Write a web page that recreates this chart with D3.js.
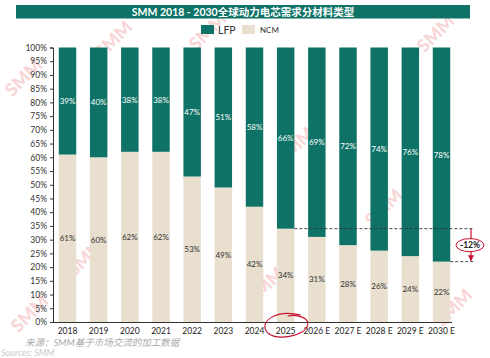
<!DOCTYPE html>
<html><head><meta charset="utf-8">
<script src="https://cdn.jsdelivr.net/npm/d3@7"></script>
<style>body{margin:0;background:#fff}svg{display:block}</style>
</head><body>
<script>
const categories = ["2018","2019","2020","2021","2022","2023","2024","2025","2026 E","2027 E","2028 E","2029 E","2030 E"];
const lfp = [39,40,38,38,47,51,58,66,69,72,74,76,78];
const ncm = [61,60,62,62,53,49,42,34,31,28,26,24,22];
const yTicks = d3.range(0, 101, 5);
const title = "SMM 2018 - 2030全球动力电芯需求分材料类型";
const seriesNames = ["LFP","NCM"];

const W = 490, H = 358;
const teal = "#0e7366", beige = "#e8dfcf", red = "#c8102e";
const font = "Lato, 'Noto Sans CJK SC', sans-serif";
const svg = d3.select("body").append("svg").attr("width", W).attr("height", H)
  .style("font-family", font);

// watermarks
const wm = [[28,82],[118,44],[212,36],[300,150],[388,212],[440,38],[270,290],[34,318],[458,312],[90,262]];
svg.append("g").selectAll("text").data(wm).join("text")
  .attr("transform", d => `translate(${d[0]},${d[1]}) rotate(-45)`)
  .attr("text-anchor","middle").attr("font-size",18).attr("font-weight",900)
  .attr("fill","#e23a3a").attr("opacity",0.2).text("SMM");

// title banner
svg.append("rect").attr("x",16).attr("y",5).attr("width",454).attr("height",13.5).attr("fill",teal);
svg.append("text").attr("x",243).attr("y",15.5).attr("text-anchor","middle")
  .attr("fill","#fff").attr("font-size",10.5).attr("font-weight",700).text(title);

// legend
const leg = svg.append("g");
leg.append("rect").attr("x",201).attr("y",25).attr("width",13).attr("height",9).attr("fill",teal);
leg.append("text").attr("x",218).attr("y",33.5).attr("font-size",10.5).attr("fill","#333").text(seriesNames[0]);
leg.append("rect").attr("x",242).attr("y",25).attr("width",13).attr("height",9).attr("fill",beige);
leg.append("text").attr("x",260).attr("y",33).attr("font-size",8).attr("fill","#333").text(seriesNames[1]);

const x = d3.scaleBand().domain(categories).range([53, 456]).paddingInner(0.44).paddingOuter(0.185);
const y = d3.scaleLinear().domain([0,100]).range([322, 47.5]);

const data = categories.map((c,i) => ({c, lfp: lfp[i], ncm: ncm[i]}));

// bars
const g = svg.append("g");
g.selectAll("rect.ncm").data(data).join("rect").attr("class","ncm")
  .attr("x", d => x(d.c)).attr("width", x.bandwidth())
  .attr("y", d => y(d.ncm)).attr("height", d => y(0) - y(d.ncm)).attr("fill", beige);
g.selectAll("rect.lfp").data(data).join("rect").attr("class","lfp")
  .attr("x", d => x(d.c)).attr("width", x.bandwidth())
  .attr("y", d => y(d.ncm + d.lfp)).attr("height", d => y(d.ncm) - y(d.ncm + d.lfp)).attr("fill", teal);

// labels
g.selectAll("text.lfpl").data(data).join("text").attr("class","lfpl")
  .attr("x", d => x(d.c) + x.bandwidth()/2).attr("y", d => y(d.ncm + d.lfp/2) + 3)
  .attr("text-anchor","middle").attr("font-size",8).attr("fill","#fff").text(d => d.lfp + "%");
g.selectAll("text.ncml").data(data).join("text").attr("class","ncml")
  .attr("x", d => x(d.c) + x.bandwidth()/2).attr("y", d => y(d.ncm/2) + 3)
  .attr("text-anchor","middle").attr("font-size",8).attr("fill","#333").text(d => d.ncm + "%");

// axes
const yAxis = d3.axisLeft(y).tickValues(yTicks).tickFormat(d => d + "%").tickSize(3).tickPadding(3);
const ya = svg.append("g").attr("transform","translate(53,0)").call(yAxis);
ya.select(".domain").attr("stroke","#333");
ya.selectAll(".tick line").attr("stroke","#333");
ya.selectAll("text").attr("font-size",8.5).attr("fill","#333").attr("font-family",font);

const xAxis = d3.axisBottom(x).tickSize(0).tickPadding(6);
const xa = svg.append("g").attr("transform","translate(0,322)").call(xAxis);
xa.select(".domain").attr("stroke","#333").attr("d","M53,0.5H452");
xa.selectAll("text").attr("font-size",8.5).attr("fill","#222").attr("font-family",font);

// annotation
const i25 = categories.indexOf("2025"), iLast = categories.length - 1;
const yUp = y(ncm[i25]), yLo = y(ncm[iLast]);
const ax = 471;
svg.append("line").attr("x1", x(categories[i25]) + x.bandwidth()).attr("x2", 474)
  .attr("y1", yUp).attr("y2", yUp).attr("stroke","#333").attr("stroke-dasharray","3,2").attr("stroke-width",0.9);
svg.append("line").attr("x1", x(categories[iLast]) + x.bandwidth()).attr("x2", 474)
  .attr("y1", yLo).attr("y2", yLo).attr("stroke","#333").attr("stroke-dasharray","3,2").attr("stroke-width",0.9);
svg.append("defs").append("marker").attr("id","ah").attr("viewBox","0 0 10 10").attr("refX",9).attr("refY",5)
  .attr("markerWidth",5).attr("markerHeight",5).attr("orient","auto")
  .append("path").attr("d","M0,0L10,5L0,10Z").attr("fill",red);
svg.append("line").attr("x1",ax).attr("x2",ax).attr("y1",yUp).attr("y2",yLo - 1)
  .attr("stroke",red).attr("stroke-width",1.2).attr("marker-end","url(#ah)");
const midY = (yUp + yLo)/2;
svg.append("ellipse").attr("cx",470).attr("cy",midY).attr("rx",14).attr("ry",6.5)
  .attr("fill","#fff").attr("stroke",red).attr("stroke-width",1);
svg.append("text").attr("x",470).attr("y",midY+3).attr("text-anchor","middle")
  .attr("font-size",8.5).attr("font-weight",700).attr("fill","#222").text("-12%");

// red hand circle around 2025
const cx25 = x("2025") + x.bandwidth()/2;
svg.append("path")
  .attr("d", `M${cx25+15},${315} C${cx25-10},${309} ${cx25-28},${322} ${cx25-18},${333} C${cx25-8},${341} ${cx25+20},${336} ${cx25+22},${325} C${cx25+24},${318} ${cx25+12},${314} ${cx25+2},${316}`)
  .attr("fill","none").attr("stroke",red).attr("stroke-width",1.1);

// source
svg.append("text").attr("x",25).attr("y",346).attr("font-size",9.5).attr("font-style","italic")
  .attr("fill","#aaa").text("来源：SMM基于市场交流的加工数据");
svg.append("text").attr("x",1).attr("y",356).attr("font-size",9).attr("font-style","italic")
  .attr("fill","#ccc").text("Sources: SMM");
</script>
</body></html>
